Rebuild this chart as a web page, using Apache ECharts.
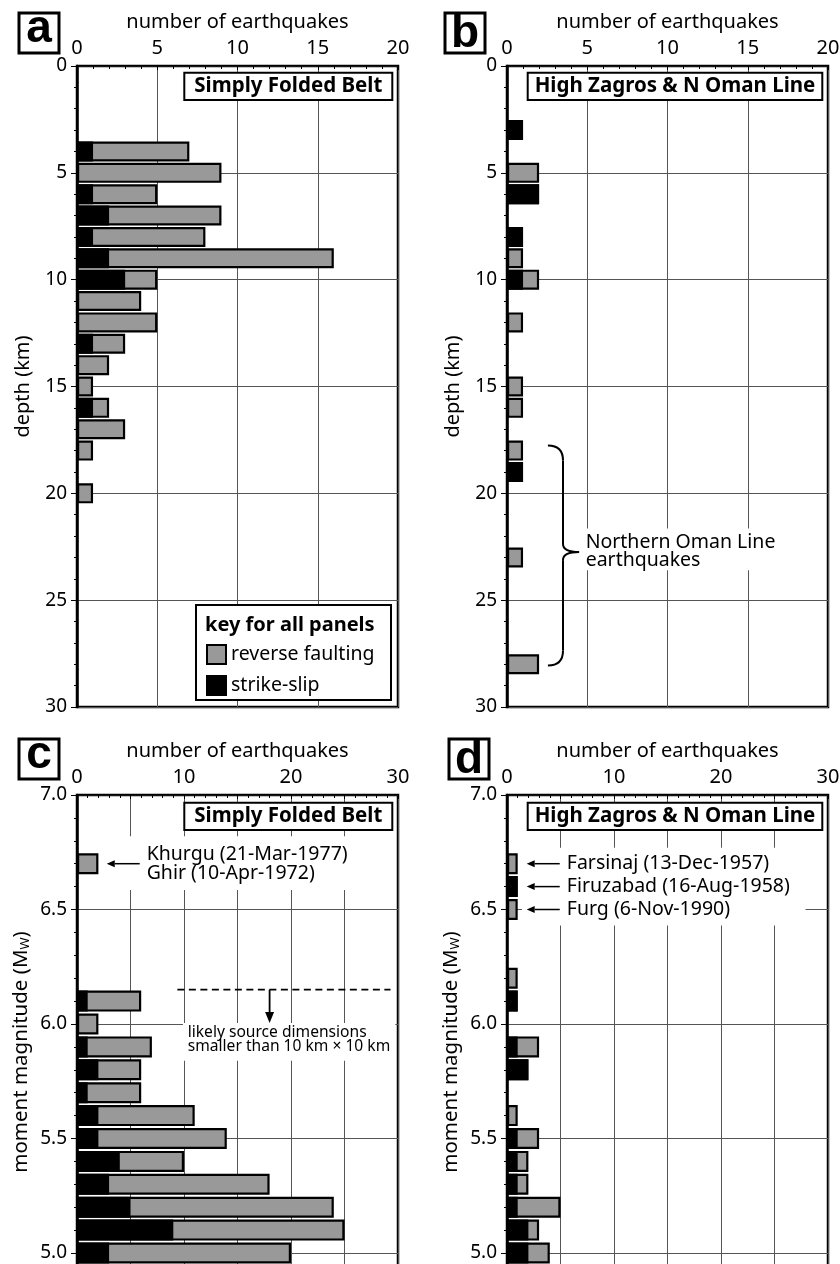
<!DOCTYPE html>
<html><head><meta charset="utf-8">
<script src="https://cdn.jsdelivr.net/npm/echarts@6/dist/echarts.min.js"></script>
<style>html,body{margin:0;padding:0;background:#fff;overflow:hidden}#c{width:840px;height:1264px}</style>
</head><body><div id="c"></div>
<script>
// ---- data ----
const depthBinsA   = [4,5,6,7,8,9,10,11,12,13,14,15,16,17,18,20];
const strikeSlipA  = [1,0,1,2,1,2,3,0,0,1,0,0,1,0,0,0];
const reverseA     = [6,9,4,7,7,14,2,4,5,2,2,1,1,3,1,1];

const depthBinsB   = [3,5,6,8,9,10,12,15,16,18,19,23,28];
const strikeSlipB  = [1,0,2,1,0,1,0,0,0,0,1,0,0];
const reverseB     = [0,2,0,0,1,1,1,1,1,1,0,1,2];

const magBinsC     = [6.7,6.1,6.0,5.9,5.8,5.7,5.6,5.5,5.4,5.3,5.2,5.1,5.0];
const strikeSlipC  = [0,1,0,1,2,1,2,2,4,3,5,9,3];
const reverseC     = [2,5,2,6,4,5,9,12,6,15,19,16,17];

const magBinsD     = [6.7,6.6,6.5,6.2,6.1,5.9,5.8,5.6,5.5,5.4,5.3,5.2,5.1,5.0];
const strikeSlipD  = [0,1,0,0,1,1,2,0,1,1,1,1,2,2];
const reverseD     = [1,0,1,1,0,2,0,1,2,1,1,4,1,2];

const panelLetters = ['a','b','c','d'];
const panelTitles  = ['Simply Folded Belt','High Zagros & N Oman Line','Simply Folded Belt','High Zagros & N Oman Line'];
const eventLabelsC = ['Khurgu (21-Mar-1977)','Ghir (10-Apr-1972)'];
const eventLabelsD = ['Farsinaj (13-Dec-1957)','Firuzabad (16-Aug-1958)','Furg (6-Nov-1990)'];
const eventMagsD   = [6.7,6.6,6.5];
const eventMagC    = 6.7;
const sourceSizeMag = 6.15;

// ---- chart ----
const FONT = '"Noto Sans", "Open Sans", sans-serif';
const chart = echarts.init(document.getElementById('c'), null, {renderer:'canvas', width:840, height:1264});

const depthCats = Array.from({length:31},(_, i)=>String(i));
const magCats = Array.from({length:26},(_, i)=>((45+i)/10).toFixed(1));

const grids = [
  {left:77,  top:66,  width:321, height:641},
  {left:507, top:66,  width:321, height:641},
  {left:77,  top:795, width:321, height:572.5},
  {left:507, top:795, width:321, height:572.5}
].map(g => Object.assign(g, {show:true, borderColor:'#000', borderWidth:2.5, backgroundColor:'rgba(0,0,0,0)',
  containLabel:false, outerBoundsMode:'none'}));

function xAx(g, max){
  return {
    type:'value', gridIndex:g, position:'top', min:0, max:max, interval:5,
    name:'number of earthquakes', nameLocation:'middle', nameGap:34,
    nameTextStyle:{fontSize:20, color:'#000', fontFamily:FONT},
    axisLine:{show:true, onZero:false, lineStyle:{color:'#000', width:1.5}},
    axisTick:{show:true, inside:true, length:4, lineStyle:{color:'#000', width:1}},
    minorTick:{show:true, splitNumber:5, length:3, lineStyle:{color:'#000', width:1}},
    axisLabel:{fontSize:20, color:'#000', margin:8, fontFamily:FONT,
      formatter: v => (max === 30 && v % 10 !== 0) ? '' : String(v)},
    splitLine:{show:true, lineStyle:{color:'#555', width:1}}
  };
}
function yDepth(g){
  return {
    type:'value', gridIndex:g, inverse:true, min:0, max:30, interval:5,
    name:'depth (km)', nameLocation:'middle', nameGap:44,
    nameTextStyle:{fontSize:20, color:'#000', fontFamily:FONT},
    axisLine:{show:true, onZero:false, lineStyle:{color:'#000', width:2.5}},
    axisTick:{show:true, inside:false, length:6, lineStyle:{color:'#000', width:1}},
    minorTick:{show:true, splitNumber:5, length:3, lineStyle:{color:'#000', width:1}},
    axisLabel:{fontSize:19, color:'#000', margin:10, fontFamily:FONT},
    splitLine:{show:true, lineStyle:{color:'#555', width:1}}
  };
}
function yMag(g){
  return {
    type:'value', gridIndex:g, min:4.5, max:7.0, interval:0.5,
    axisLine:{show:true, onZero:false, lineStyle:{color:'#000', width:2.5}},
    axisTick:{show:true, inside:false, length:6, lineStyle:{color:'#000', width:1}},
    minorTick:{show:true, splitNumber:5, length:3, lineStyle:{color:'#000', width:1}},
    axisLabel:{fontSize:19, color:'#000', margin:10, fontFamily:FONT, formatter: v => v.toFixed(1)},
    splitLine:{show:true, lineStyle:{color:'#555', width:1}}
  };
}
function yCat(g, cats, inverse){
  return {type:'category', gridIndex:g, data:cats, inverse:inverse, boundaryGap:false, show:false};
}

const panels = [
  {bins:depthBinsA, ss:strikeSlipA, rev:reverseA, kind:'depth'},
  {bins:depthBinsB, ss:strikeSlipB, rev:reverseB, kind:'depth'},
  {bins:magBinsC,   ss:strikeSlipC, rev:reverseC, kind:'mag'},
  {bins:magBinsD,   ss:strikeSlipD, rev:reverseD, kind:'mag'}
];

const series = [];
panels.forEach((p, k) => {
  const n = p.kind === 'depth' ? 31 : 26;
  const idx = p.kind === 'depth' ? (b => b) : (b => Math.round(b*10) - 45);
  const tot = new Array(n).fill('-'), blk = new Array(n).fill('-');
  p.bins.forEach((b, i) => {
    const t = p.rev[i] + p.ss[i];
    if (t > 0) tot[idx(b)] = t;
    if (p.ss[i] > 0) blk[idx(b)] = p.ss[i];
  });
  const bw = p.kind === 'depth' ? 20 : 21;
  series.push({type:'bar', name:'reverse faulting', xAxisIndex:k, yAxisIndex:4+k, data:tot,
    barWidth:bw, barGap:'-100%', z:2, silent:true,
    itemStyle:{color:'#999', borderColor:'#000', borderWidth:2.2}});
  series.push({type:'bar', name:'strike-slip', xAxisIndex:k, yAxisIndex:4+k, data:blk,
    barWidth:bw, barGap:'-100%', z:3, silent:true,
    itemStyle:{color:'#000', borderColor:'#000', borderWidth:2.2}});
});

const option = {
  animation:false,
  textStyle:{fontFamily:FONT},
  grid: grids,
  xAxis: [xAx(0,20), xAx(1,20), xAx(2,30), xAx(3,30)],
  yAxis: [yDepth(0), yDepth(1), yMag(2), yMag(3),
          yCat(0, depthCats, true), yCat(1, depthCats, true), yCat(2, magCats, false), yCat(3, magCats, false)],
  legend: {
    left:206, top:644, padding:0, orient:'vertical', itemWidth:19, itemHeight:19, itemGap:10, z:30,
    selectedMode:false, icon:'rect',
    textStyle:{fontSize:19.5, color:'#000', fontFamily:FONT},
    data:[{name:'reverse faulting', itemStyle:{color:'#999', borderColor:'#000', borderWidth:2}},
          {name:'strike-slip', itemStyle:{color:'#000', borderColor:'#000', borderWidth:2}}]
  },
  series: series
};
chart.setOption(option);

// ---- annotations, positioned through the axes ----
const P = (k, x, y) => chart.convertToPixel({xAxisIndex:k, yAxisIndex:k}, [x, y]);
const G = [];
const ANN = 19.5;
function txt(x, y, text, o){
  return {type:'text', x:x, y:y, z:40, silent:true,
    style:Object.assign({text:text, fill:'#000', fontSize:ANN, fontFamily:FONT,
      textAlign:'left', align:'left', textVerticalAlign:'middle', verticalAlign:'middle'}, o||{})};
}
function whiteRect(p0, p1){
  return {type:'rect', z:30, silent:true,
    shape:{x:Math.min(p0[0],p1[0]), y:Math.min(p0[1],p1[1]), width:Math.abs(p1[0]-p0[0]), height:Math.abs(p1[1]-p0[1])},
    style:{fill:'#fff', stroke:null}};
}
function arrow(p0, p1, headLen, headW, lw){
  const dx = p1[0]-p0[0], dy = p1[1]-p0[1], L = Math.hypot(dx, dy), ux = dx/L, uy = dy/L;
  const bx = p1[0]-ux*headLen, by = p1[1]-uy*headLen;
  G.push({type:'polyline', z:45, silent:true, shape:{points:[p0,[bx,by]]}, style:{stroke:'#000', lineWidth:lw, fill:null}});
  G.push({type:'polygon', z:45, silent:true, shape:{points:[p1,[bx-uy*headW/2, by+ux*headW/2],[bx+uy*headW/2, by-ux*headW/2]]}, style:{fill:'#000'}});
}

// panel letters
const letterBoxes = [[19,13],[445,13],[19,739],[449,739]];
const letterDy = [-3.8, 1, -3.8, 1];
letterBoxes.forEach((b, i) => {
  G.push({type:'rect', z:40, silent:true, shape:{x:b[0], y:b[1], width:40, height:40}, style:{fill:'#fff', stroke:'#000', lineWidth:3}});
  G.push(txt(b[0]+20, b[1]+20+letterDy[i], panelLetters[i], {fontSize:46, fontWeight:'bold', fontFamily:'"Liberation Sans", Arial, sans-serif', textAlign:'center', align:'center'}));
});

// title boxes
const titleBoxes = [[184.3,72.7,208,27.3],[527.7,72.7,294.6,27.3],[184.3,802.7,208,27.3],[527.7,802.7,294.6,27.3]];
titleBoxes.forEach((b, i) => {
  G.push({type:'rect', z:35, silent:true, shape:{x:b[0], y:b[1], width:b[2], height:b[3]}, style:{fill:'#fff', stroke:'#000', lineWidth:2}});
  G.push(txt(b[0]+b[2]/2, b[1]+b[3]/2, panelTitles[i], {fontWeight:'bold', fontSize:20.5, textAlign:'center', align:'center'}));
});

// key box (panel a)
G.push({type:'rect', z:25, silent:true, shape:{x:196, y:605, width:195, height:95}, style:{fill:'#fff', stroke:'#000', lineWidth:2}});
G.push(txt(205, 625, 'key for all panels', {fontWeight:'bold', fontSize:20}));

// y-axis names for magnitude panels
[[21,1052],[451,1052]].forEach(c => {
  G.push({type:'text', x:c[0], y:c[1], rotation:Math.PI/2, z:40, silent:true,
    style:{text:'moment magnitude (M{w|W})', fill:'#000', fontSize:20.5, fontFamily:FONT,
      textAlign:'center', align:'center', textVerticalAlign:'middle', verticalAlign:'middle',
      rich:{w:{fontSize:13, fill:'#000', fontFamily:FONT, verticalAlign:'bottom'}}}});
});

// panel b: brace + label
{
  const te = P(1, 2.55, 17.76), tb = P(1, 2.55, 28.06), stemX = P(1, 3.49, 0)[0], tip = P(1, 4.49, 22.75);
  const r1 = 15, r2 = 8;
  const bz = (x1,y1,cx,cy,x2,y2) => G.push({type:'bezierCurve', z:45, silent:true, shape:{x1:x1,y1:y1,cpx1:cx,cpy1:cy,x2:x2,y2:y2}, style:{stroke:'#000', lineWidth:2, fill:null}});
  const ln = (x1,y1,x2,y2) => G.push({type:'line', z:45, silent:true, shape:{x1:x1,y1:y1,x2:x2,y2:y2}, style:{stroke:'#000', lineWidth:2}});
  bz(te[0], te[1], stemX, te[1], stemX, te[1]+r1);
  ln(stemX, te[1]+r1, stemX, tip[1]-r2);
  bz(stemX, tip[1]-r2, stemX, tip[1], tip[0], tip[1]);
  bz(tip[0], tip[1], stemX, tip[1], stemX, tip[1]+r2);
  ln(stemX, tip[1]+r2, stemX, tb[1]-r1);
  bz(stemX, tb[1]-r1, stemX, tb[1], tb[0], tb[1]);
  G.push(whiteRect(P(1, 4.7, 21.65), P(1, 17.2, 23.6)));
  const tp = P(1, 4.9, 22.7);
  G.push(txt(tp[0], tp[1], 'Northern Oman Line\nearthquakes', {lineHeight:18}));
}

// panel c: event arrow + label, dashed source-size line
{
  G.push(whiteRect(P(2, 3.1, eventMagC+0.12), P(2, 25.6, eventMagC-0.115)));
  arrow(P(2, 5.86, eventMagC), P(2, 2.78, eventMagC), 8, 7, 1.5);
  const tp = P(2, 6.51, eventMagC);
  G.push(txt(tp[0], tp[1], eventLabelsC.join('\n'), {lineHeight:19}));
  const d0 = P(2, 9.38, sourceSizeMag), d1 = P(2, 29.3, sourceSizeMag);
  G.push({type:'polyline', z:45, silent:true, shape:{points:[d0,d1]}, style:{stroke:'#000', lineWidth:1.8, lineDash:[7,4.5], fill:null}});
  G.push(whiteRect(P(2, 9.9, 6.004), P(2, 29.75, 5.84)));
  arrow(P(2, 18.0, sourceSizeMag), P(2, 18.0, 6.004), 11, 9, 1.8);
  const sp = P(2, 10.35, 5.93);
  G.push(txt(sp[0], sp[1], 'likely source dimensions\nsmaller than 10 km \u00d7 10 km', {fontSize:15.6, lineHeight:14}));
}

// panel d: event arrows + labels
{
  G.push(whiteRect(P(3, 1.4, 6.77), P(3, 27.9, 6.43)));
  eventMagsD.forEach((m, i) => {
    arrow(P(3, 4.93, m), P(3, 1.84, m), 8, 7, 1.5);
    const tp = P(3, 5.59, m);
    G.push(txt(tp[0], tp[1], eventLabelsD[i]));
  });
}

chart.setOption({graphic:{elements:G}});
</script>
</body></html>
